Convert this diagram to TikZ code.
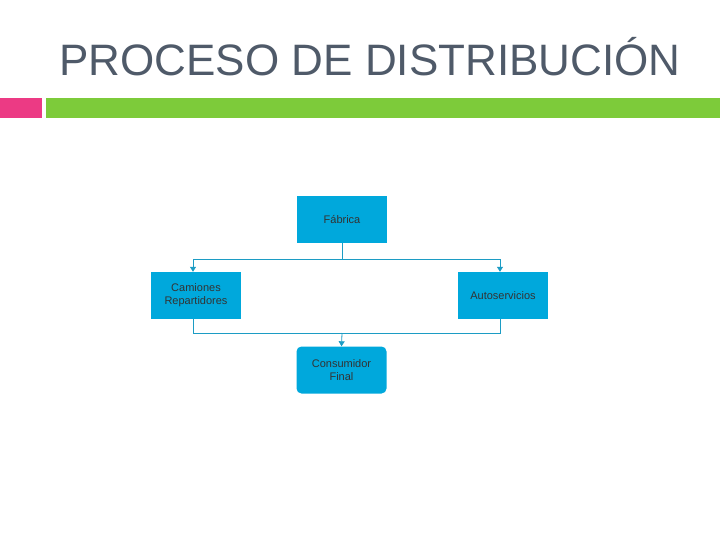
\documentclass[tikz,border=0pt]{standalone}
\usepackage{fontspec}
\setmainfont{Liberation Sans}
\usetikzlibrary{arrows.meta}
\definecolor{boxc}{HTML}{00A8DC}
\definecolor{linec}{HTML}{1C9CC4}
\definecolor{titlec}{HTML}{4F5A69}
\definecolor{pinkc}{HTML}{EC3A84}
\definecolor{greenc}{HTML}{7DCB3A}
\tikzset{
  box/.style={fill=boxc,minimum width=90pt,minimum height=47pt,inner sep=0pt,align=center,font=\fontsize{11}{13}\selectfont,text=black!80},
  conn/.style={draw=linec,line width=0.8pt},
  arr/.style={conn,-{Triangle[width=6pt,length=5pt]}}
}
\begin{document}
\begin{tikzpicture}[x=1pt,y=-1pt]
\useasboundingbox (0,0) rectangle (720,540);
\fill[white] (0,0) rectangle (720,540);
\node[anchor=west,text=titlec,font=\fontsize{44}{50}\selectfont] (title) at (56,57) {PROCESO DE DISTRIBUCIÓN};
\fill[pinkc] (0,98) rectangle (42,118);
\fill[greenc] (46,98) rectangle (720,118);
\node[box] (fab) at (342,219.5) {Fábrica};
\node[box] (cam) at (196,295.5) {Camiones\\Repartidores};
\node[box] (auto) at (503,295.5) {Autoservicios};
\node[box,rounded corners=5pt] (cons) at (341.5,370) {Consumidor\\Final};
\coordinate (j1) at (342,259);
\coordinate (j2) at (342,333);
\draw[conn] (fab.south) -- (j1);
\draw[arr] (j1) -| ([xshift=-3pt]cam.north);
\draw[arr] (j1) -| ([xshift=-3pt]auto.north);
\draw[conn] ([xshift=-3pt]cam.south) |- (j2);
\draw[conn] ([xshift=-3pt]auto.south) |- (j2);
\draw[arr] (j2) -- (cons.north);
\end{tikzpicture}
\end{document}
